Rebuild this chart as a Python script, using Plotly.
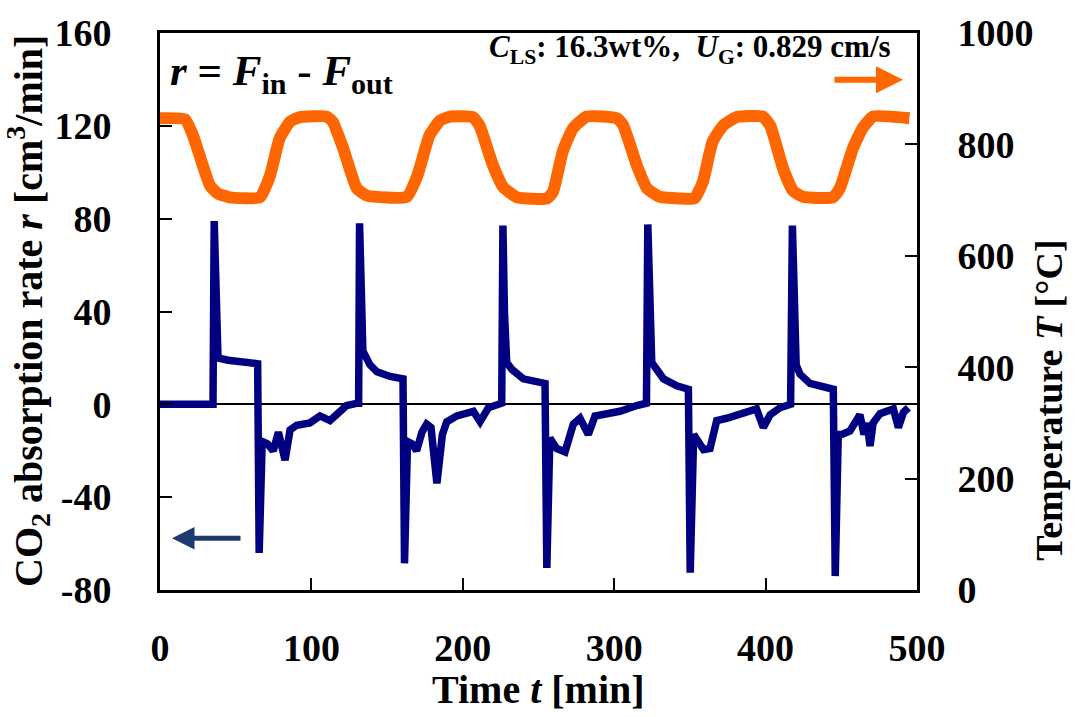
import plotly.graph_objects as go

# ---------------- data ----------------
# Temperature T [°C] (right axis)
temp_time = [0, 16.5, 21.8, 33, 38, 46, 66, 72.7, 79, 86,
             92.5, 110, 114, 121, 130, 136.7, 163, 170, 178, 185,
             191.5, 206.7, 211, 220, 226.5, 235.8, 255.6, 259.6, 266, 272.8,
             282, 301.8, 306, 315, 321.7, 330, 343, 353, 358.6, 365,
             372, 381, 398, 403, 411.5, 418, 424.7, 444.5, 449, 457.7,
             464, 471, 495]
temp_vals = [847, 845, 816, 726, 712, 705, 705, 744, 811, 841,
             849, 850, 841, 793, 721, 708, 706, 744, 816, 843,
             850, 849, 834, 762, 724, 705, 703, 715, 787, 829,
             850, 847, 834, 762, 721, 706, 703, 703, 733, 805,
             834, 849, 850, 834, 757, 717, 706, 705, 721, 793,
             829, 850, 847]

# CO2 absorption rate r [cm3/min] (left axis)
rate_time = [0, 35, 35.8, 36.8, 38.3, 45, 55, 64.5, 65.5, 67.5, 71, 74.8, 78.2, 82.6, 85.9, 90.3, 99, 105.7, 112.3, 116.7, 123.3, 130.5,
             131.2, 131.8, 132.8, 134, 138.7, 143.3, 152, 160.5, 161.5, 163.5, 166.5, 169.5, 173, 176.1, 179, 182.9, 186.5, 189.4, 196, 207, 211.4, 216.9, 225.7,
             226.5, 227.5, 229, 232.5, 240, 254.3, 255.5, 257.5, 262, 267.5, 273, 277.4, 282.9, 287.3, 303.8, 314.9, 321.3,
             322.2, 323.2, 324.8, 332.5, 341.3, 349, 350.2, 352.5, 359, 363.3, 367.7, 374.3, 394, 398.5, 403, 409.5, 416.5,
             417.7, 418.7, 420.2, 422.7, 429.3, 444.7, 446, 448, 450.2, 455.7, 462.3, 465, 467, 469, 471, 475.6, 484.4, 487.7, 491, 494.3]
rate_vals = [0, 0, 79, 40, 20, 19, 18.5, 17.5, -64, -16, -17, -20, -12, -24, -11, -9, -8, -5, -7, -4.5, -0.5, 0.5,
             0.5, 78, 40, 23, 17, 14, 12, 11, -68.5, -16, -17, -20, -12, -8.5, -10, -34, -13, -7.5, -5, -3, -7.5, -1.5, 0.5,
             77, 40, 18, 15, 11, 9, -70.5, -14.5, -19, -20.5, -8.5, -6, -13, -5, -3, -0.5, 0.5,
             77.5, 40, 18, 11, 8, 6.5, -72.5, -13, -19.5, -19, -7, -6, -2, -10, -4.5, -1.5, 0,
             77, 40, 17, 13, 9, 6.5, -74, -13, -13, -11.5, -4.5, -13, -8, -18, -8, -4, -2, -10, -3.5, -1.5]

x_ticks = [0, 100, 200, 300, 400, 500]
y_ticks = [-80, -40, 0, 40, 80, 120, 160]
y2_ticks = [0, 200, 400, 600, 800, 1000]

# ---------------- figure ----------------
FONT = "Times New Roman, Liberation Serif, serif"
ORANGE = "#FF6600"
NAVY = "#000080"

fig = go.Figure()
fig.add_trace(go.Scatter(x=temp_time, y=temp_vals, yaxis="y2", mode="lines",
                         line=dict(color=ORANGE, width=12, shape="spline", smoothing=0.45),
                         showlegend=False, hoverinfo="skip"))
fig.add_trace(go.Scatter(x=rate_time, y=rate_vals, mode="lines",
                         line=dict(color=NAVY, width=7.5),
                         showlegend=False, hoverinfo="skip"))

tickfont = dict(family=FONT, size=38, color="black", weight="bold")
axis_common = dict(showgrid=False, ticks="inside", ticklen=12, tickwidth=2, tickcolor="black",
                   showline=True, linewidth=3, linecolor="black", tickfont=tickfont)

fig.update_layout(
    width=1075, height=717,
    margin=dict(l=160, r=158, t=31, b=127),
    paper_bgcolor="white", plot_bgcolor="white",
    xaxis=dict(range=[0, 500], tickvals=x_ticks, ticktext=[str(v) for v in x_ticks],
               mirror=True, zeroline=False, ticklabelstandoff=22, **axis_common),
    yaxis=dict(range=[-80, 160], tickvals=y_ticks, ticktext=[str(v) for v in y_ticks],
               zeroline=True, zerolinecolor="black", zerolinewidth=2, ticklabelstandoff=38, **axis_common),
    yaxis2=dict(range=[0, 1000], tickvals=y2_ticks, ticktext=[str(v) for v in y2_ticks],
                overlaying="y", side="right", zeroline=False, ticklabelstandoff=30, **axis_common),
)

def paper_x(px):
    return (px - 160) / 757.0

def paper_y(py):
    return (590 - py) / 559.0

title_font = dict(family=FONT, size=40, color="black", weight="bold")
anns = [
    dict(text="Time <i>t</i> [min]", x=paper_x(538), y=paper_y(690), xref="paper", yref="paper",
         showarrow=False, font=title_font, xanchor="center", yanchor="middle"),
    dict(text="CO<sub>2</sub> absorption rate <i>r</i> [cm<sup>3</sup>/min]", x=paper_x(28), y=paper_y(310),
         xref="paper", yref="paper", showarrow=False, font=title_font, textangle=-90,
         xanchor="center", yanchor="middle"),
    dict(text="Temperature <i>T</i> [°C]", x=paper_x(1049), y=paper_y(400),
         xref="paper", yref="paper", showarrow=False,
         font=dict(family=FONT, size=38, color="black", weight="bold"), textangle=-90,
         xanchor="center", yanchor="middle"),
    dict(text="<i>r</i> = <i>F</i><sub>in</sub> - <i>F</i><sub>out</sub>", x=paper_x(168), y=paper_y(72),
         xref="paper", yref="paper", showarrow=False,
         font=dict(family=FONT, size=43, color="black", weight="bold"), xanchor="left", yanchor="middle"),
    dict(text="<i>C</i><sub>LS</sub>: 16.3wt%,  <i>U</i><sub>G</sub>: 0.829 cm/s", x=paper_x(893), y=paper_y(47),
         xref="paper", yref="paper", showarrow=False,
         font=dict(family=FONT, size=31, color="black", weight="bold"), xanchor="right", yanchor="middle"),
    # orange arrow -> (temperature on right axis)
    dict(text="", x=paper_x(903), y=paper_y(78), xref="paper", yref="paper", showarrow=True,
         ax=-70, ay=0, arrowhead=2, arrowsize=0.9, arrowwidth=6, arrowcolor=ORANGE),
    # navy arrow <- (rate on left axis)
    dict(text="", x=paper_x(172), y=paper_y(538), xref="paper", yref="paper", showarrow=True,
         ax=70, ay=0, arrowhead=2, arrowsize=0.9, arrowwidth=5, arrowcolor="#1F3A6E"),
]
fig.update_layout(annotations=anns)

fig.write_html("out.html")
